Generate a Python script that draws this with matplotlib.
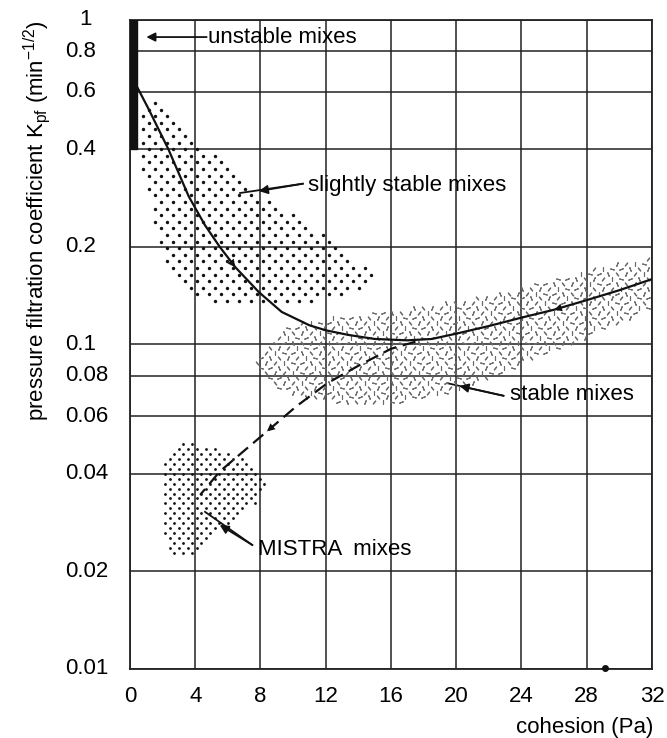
import numpy as np
import matplotlib
matplotlib.use("Agg")
import matplotlib.pyplot as plt
from matplotlib.path import Path
from matplotlib.transforms import blended_transform_factory

plt.rcParams['font.family'] = ['Liberation Sans', 'DejaVu Sans']
plt.rcParams['mathtext.fontset'] = 'custom'
plt.rcParams['mathtext.rm'] = 'Liberation Sans'
plt.rcParams['mathtext.it'] = 'Liberation Sans:italic'

# solid curve (cohesion Pa, Kpf)
solid_x = [0.45, 1.13, 2.35, 3.6, 4.6, 5.5, 6.46, 7.9, 9.3, 11.0, 12.0, 13.4, 15.0, 17.0,
           18.5, 20.0, 22.0, 24.0, 26.0, 28.0, 30.0, 32.0]
solid_y = [0.62, 0.533, 0.40, 0.286, 0.233, 0.20, 0.173, 0.145, 0.126, 0.1146, 0.1106,
           0.107, 0.104, 0.103, 0.104, 0.108, 0.114, 0.121, 0.128, 0.137, 0.147, 0.159]

# dashed branch towards MISTRA mixes
dash_x = [17.5, 16.0, 14.0, 12.1, 10.2, 8.4, 7.2, 5.5, 4.3]
dash_y = [0.102, 0.097, 0.086, 0.076, 0.0645, 0.054, 0.048, 0.0406, 0.0344]

# shaded zones (outlines)
slight_x = [0.4, 1.9, 4.2, 5.9, 7.1, 9.0, 11.8, 13.4, 15.3, 13.4, 10.8, 7.1, 4.4, 3.0,
            2.0, 1.5, 1.0, 0.5]
slight_y = [0.55, 0.57, 0.43, 0.35, 0.30, 0.27, 0.22, 0.19, 0.16, 0.143, 0.133, 0.13,
            0.137, 0.155, 0.18, 0.22, 0.30, 0.36]

stable_x = [7.5, 9.8, 12.8, 16.5, 21.0, 25.1, 29.2, 32.0, 32.0, 27.1, 23.1, 20.0, 15.9,
            12.8, 10.4, 8.7, 7.7]
stable_y = [0.09, 0.115, 0.122, 0.127, 0.138, 0.155, 0.175, 0.186, 0.128, 0.10, 0.083,
            0.072, 0.064, 0.066, 0.069, 0.075, 0.083]

mistra_x = [3.4, 4.8, 7.1, 8.1, 8.3, 7.9, 6.7, 5.0, 4.4, 2.4, 2.0, 1.9, 1.9]
mistra_y = [0.05, 0.049, 0.044, 0.041, 0.037, 0.033, 0.029, 0.026, 0.023, 0.022, 0.029,
            0.036, 0.045]

unstable_x = [0.0, 0.45]
unstable_y = [0.4, 1.0]

x_ticks = [0, 4, 8, 12, 16, 20, 24, 28, 32]
y_ticks = [0.01, 0.02, 0.04, 0.06, 0.08, 0.1, 0.2, 0.4, 0.6, 0.8, 1]
y_labels = ["0.01", "0.02", "0.04", "0.06", "0.08", "0.1", "0.2", "0.4", "0.6", "0.8", "1"]

fig = plt.figure(figsize=(6.67, 7.38), dpi=100)
ax = fig.add_axes([0.1949, 0.0935, 0.7826, 0.8794])
ax.set_yscale('log')
ax.set_xlim(0, 32)
ax.set_ylim(0.01, 1)
ax.set_xticks(x_ticks)
ax.set_yticks(y_ticks)
ax.yaxis.set_minor_locator(matplotlib.ticker.NullLocator())
ax.tick_params(length=0, labelleft=False, labelsize=16, pad=12)
ax.grid(True, color='#222222', lw=1.1)
for s in ax.spines.values():
    s.set_color('#222222')
    s.set_linewidth(1.3)

# y tick labels: left aligned, the "1" sits right-aligned with "0.8"
tr = blended_transform_factory(ax.transAxes, ax.transData)
for v, lab in zip(y_ticks, y_labels):
    if lab == "1":
        ax.text((92 - 130) / 522, v, lab, transform=tr, ha='right', va='center', fontsize=16)
    else:
        ax.text((65 - 130) / 522, v, lab, transform=tr, ha='left', va='center', fontsize=16)


def stipple(xs, ys, step, size, color, row=0.55, lw=0.0, angles=None):
    # fill an outline with a regular pattern of marks (pixel spacing)
    poly = ax.transData.transform(np.column_stack([xs, ys]))
    path = Path(poly)
    x0, y0 = poly.min(0)
    x1, y1 = poly.max(0)
    pts = []
    for k, yy in enumerate(np.arange(y0, y1, step * row)):
        off = step / 2 if k % 2 else 0
        for j, xx in enumerate(np.arange(x0 + off, x1, step)):
            pts.append((xx, yy, (j * 3 + k * 5) % 7))
    pts = np.array(pts)
    pts = pts[path.contains_points(pts[:, :2])]
    data = ax.transData.inverted().transform(pts[:, :2])
    if angles is None:
        ax.scatter(data[:, 0], data[:, 1], s=size, c=color, marker='o',
                   linewidths=0, zorder=3)
    else:
        for g in range(7):
            sel = pts[:, 2] == g
            ax.scatter(data[sel, 0], data[sel, 1], s=size, c=color,
                       marker=(2, 2, angles[g]), linewidths=lw, zorder=3)


fig.canvas.draw()
stipple(slight_x, slight_y, 12.0, 6.0, '#111111')
stipple(mistra_x, mistra_y, 9.0, 4.0, '#111111')
stipple(stable_x, stable_y, 9.0, 7.0, '#6a6a6a', lw=0.8,
        angles=[20, 75, 140, 40, 110, 0, 160])

ax.fill_between(unstable_x, unstable_y[0], unstable_y[1], color='#111111', zorder=4)

ax.plot(solid_x, solid_y, color='#111111', lw=1.6, zorder=5)
ax.plot(dash_x, dash_y, color='#111111', lw=1.6, dashes=(6, 3), zorder=5)

arrow = dict(arrowstyle='-|>', color='#111111', lw=0, mutation_scale=14,
             shrinkA=0, shrinkB=0)
ax.annotate('', xy=(6.46, 0.173), xytext=(5.5, 0.20), arrowprops=arrow, zorder=6)
ax.annotate('', xy=(26.0, 0.128), xytext=(28.0, 0.137), arrowprops=arrow, zorder=6)
ax.annotate('', xy=(8.4, 0.054), xytext=(10.2, 0.0645), arrowprops=arrow, zorder=6)

# labels with leader lines
lead = dict(arrowstyle='-|>', color='#111111', lw=1.3, mutation_scale=13,
            shrinkA=0, shrinkB=0)
ax.text(4.8, 0.886, "unstable mixes", fontsize=16, va='center', ha='left')
ax.annotate('', xy=(1.0, 0.886), xytext=(4.7, 0.886), arrowprops=lead)

ax.text(10.9, 0.31, "slightly stable mixes", fontsize=16, va='center', ha='left')
ax.plot([10.6, 6.75], [0.313, 0.293], color='#111111', lw=1.3)
ax.annotate('', xy=(7.9, 0.297), xytext=(10.6, 0.313), arrowprops=lead)

ax.text(23.3, 0.0699, "stable mixes", fontsize=16, va='center', ha='left')
ax.plot([22.9, 19.45], [0.0695, 0.076], color='#111111', lw=1.3)
ax.annotate('', xy=(20.2, 0.0745), xytext=(22.9, 0.0695), arrowprops=lead)

ax.text(7.85, 0.0233, "MISTRA  mixes", fontsize=16, va='center', ha='left')
ax.plot([7.5, 4.6], [0.0241, 0.0305], color='#111111', lw=1.3)
ax.annotate('', xy=(5.5, 0.0278), xytext=(7.5, 0.0241), arrowprops=lead)

ax.plot([29.1], [0.0101], 'o', color='#111111', ms=4, clip_on=False, zorder=6)

fig.text(37 / 667, 1 - 20 / 738,
         r"pressure filtration coefficient K$_{\mathrm{pf}}$ (min$^{-1/2}$)",
         rotation=90, ha='center', va='top', fontsize=16)
fig.text(653 / 667, 1 - 727 / 738, "cohesion (Pa)", ha='right', va='center', fontsize=16)

fig.savefig("out.png", dpi=100)
